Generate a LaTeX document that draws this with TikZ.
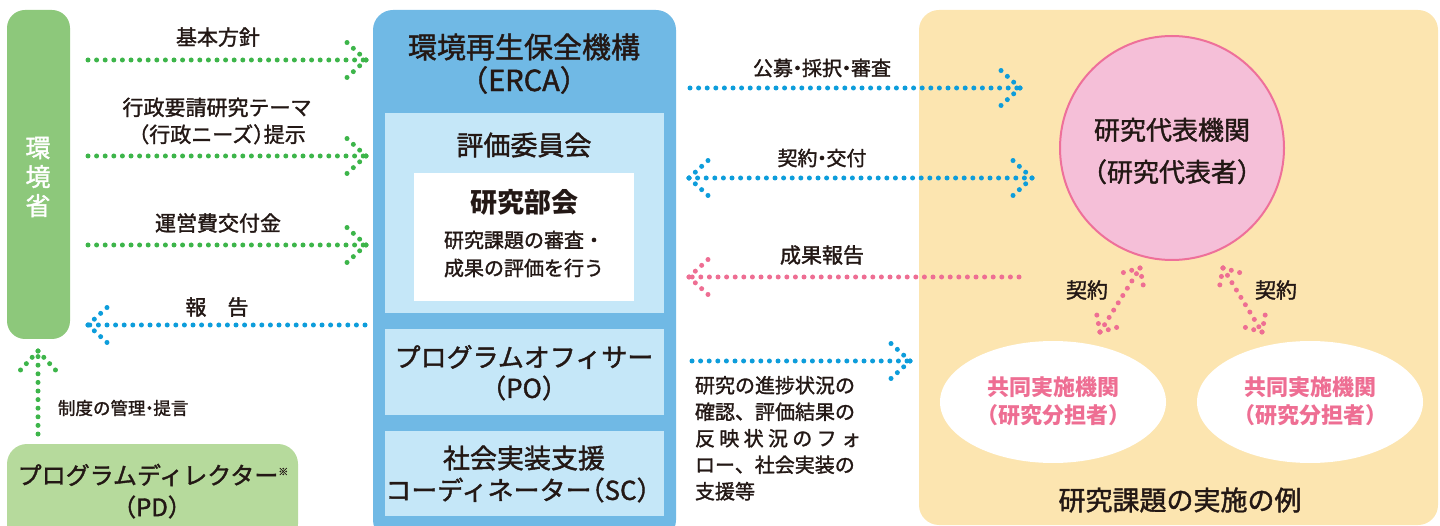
\documentclass[tikz,border=0pt]{standalone}
\usepackage{fontspec}
\usetikzlibrary{shapes.geometric}
\setmainfont{Noto Sans CJK JP}[FakeBold=1.5, BoldFeatures={FakeBold=0}]
\definecolor{gdot}{HTML}{3DB54A}
\definecolor{bdot}{HTML}{0D9DDB}
\definecolor{pdot}{HTML}{EE6E93}
\definecolor{moeg}{HTML}{8DC87B}
\definecolor{pdg}{HTML}{B6DA9C}
\definecolor{ercab}{HTML}{70B9E5}
\definecolor{lightb}{HTML}{C5E7F8}
\definecolor{yel}{HTML}{FCE5B0}
\definecolor{pinkf}{HTML}{F5BFD8}
\definecolor{pinkd}{HTML}{EE709A}
\definecolor{txt}{HTML}{231815}
\newcommand{\fs}[2]{\fontsize{#1pt}{#2pt}\selectfont}
\newcommand{\nd}{\makebox[0.45em][c]{・}}
\newcommand{\lp}{\makebox[0.5em][r]{（}}
\newcommand{\rp}{\makebox[0.5em][l]{）}}
\begin{document}
\begin{tikzpicture}[x=1pt,y=-1pt,
  every node/.style={text=txt, inner sep=0pt, outer sep=0pt},
  dotl/.style={line width=5pt, line cap=round, dash pattern=on 0pt off 8.6pt},
  chev/.pic={\draw[dotl] (0,0) -- (-25,-23); \draw[dotl] (0,0) -- (-25,23);},
  panel/.style={fill=lightb, minimum width=279pt},
  lbl/.style={font=\fs{21}{25}},
]
\useasboundingbox (0,0) rectangle (1440,526);

% ---------- boxes ----------
\node[fill=yel, rounded corners=20pt, minimum width=519pt, minimum height=515pt] (yb) at (1178.5,267.5) {};
\node[fill=moeg, rounded corners=18pt, minimum width=63pt, minimum height=329pt] (moe) at (38.5,174.5) {};
\node[fill=pdg, rounded corners=20pt, minimum width=291pt, minimum height=100pt] (pd) at (152.5,494) {};
\node[fill=ercab, rounded corners=20pt, minimum width=303pt, minimum height=530pt] (erca) at (524.5,275) {};
\node[panel, minimum height=200pt] (hyoka) at (524.5,213) {};
\node[fill=white, minimum width=220pt, minimum height=128pt] (bukai) at (524,237) {};
\node[panel, minimum height=86pt] (po) at (524.5,372) {};
\node[panel, minimum height=85pt] (sc) at (524.5,473.5) {};
\node[circle, fill=pinkf, draw=pinkd, line width=2pt, minimum size=224pt] (rep) at (1172,148) {};
\node[ellipse, fill=white, minimum width=226pt, minimum height=122pt] (co1) at (1053,402) {};
\node[ellipse, fill=white, minimum width=226pt, minimum height=122pt] (co2) at (1310,402) {};

% ---------- texts ----------
\node[text=white, font=\fs{25}{29}, align=center] (moet) at (38,177) {環\\境\\省};
\node[font=\fs{24}{28}] (pdt1) at (153,475) {プログラムディレクター\raisebox{9pt}{\fs{10}{10}※}};
\node[font=\fs{24}{28}] (pdt2) at (152,507) {（PD）};

\node[font=\fs{29}{33}] (ercat1) at (524,47) {環境再生保全機構};
\node[font=\fs{29}{33}] (ercat2) at (524,80) {（ERCA）};
\node[font=\fs{27}{31}] (hyokat) at (524,145) {評価委員会};
\node[font=\bfseries\fs{27}{31}] (bukait) at (524,202) {研究部会};
\node[font=\fs{20}{28}] (bukai1) at (524,240) {研究課題の審査・};
\node[font=\fs{20}{28}] (bukai2) at (524,268) {成果の評価を行う};
\node[font=\fs{26}{30}] (pot1) at (524,357) {プログラムオフィサー};
\node[font=\fs{26}{30}] (pot2) at (524,388) {（PO）};
\node[font=\fs{27}{31}] (sct1) at (524,458) {社会実装支援};
\node[font=\fs{26}{30}] (sct2) at (524,490) {コーディネーター\lp SC）};

\node[font=\fs{26}{42}, align=center] (rept) at (1172,151) {研究代表機関\\（研究代表者）};
\node[text=pdot, font=\bfseries\fs{22}{28}, align=center] (co1t) at (1053,401) {共同実施機関\\（研究分担者）};
\node[text=pdot, font=\bfseries\fs{22}{28}, align=center] (co2t) at (1310,401) {共同実施機関\\（研究分担者）};
\node[font=\fs{27}{31}] (ex) at (1180,500) {研究課題の実施の例};

% labels
\node[lbl] (l1) at (218,37) {基本方針};
\node[lbl, align=center, font=\fs{21}{27}] (l2) at (217,121) {行政要請研究テーマ\\（行政ニーズ\rp 提示};
\node[lbl] (l3) at (218,223) {運営費交付金};
\node[lbl] (l4) at (217,307) {報　告};
\node[font=\fs{17.5}{20}, anchor=west] (l5) at (58,408) {制度の管理\nd 提言};
\node[font=\fs{20}{24}] (l6) at (822,68) {公募\nd 採択\nd 審査};
\node[font=\fs{20}{24}] (l7) at (822,158) {契約\nd 交付};
\node[font=\fs{21}{24}] (l8) at (822,255) {成果報告};
\node[font=\fs{20}{26.5}, align=left, anchor=north west] (l9) at (695,376) {研究の進捗状況の\\確認、評価結果の\\\hbox to 166pt{反\hfill 映\hfill 状\hfill 況\hfill の\hfill フ\hfill ォ}\\ロー、社会実装の\\支援等};
\node[lbl] (k1) at (1087,290) {契約};
\node[lbl] (k2) at (1276,290) {契約};

% ---------- connectors ----------
\coordinate (g1s) at (88,60);  \coordinate (g1e) at (366,60);
\coordinate (g2s) at (88,156); \coordinate (g2e) at (366,156);
\coordinate (g3s) at (88,245); \coordinate (g3e) at (366,245);
\coordinate (rps) at (365,325); \coordinate (rpe) at (88,325);
\coordinate (ups) at (38,434); \coordinate (upe) at (38,351);
\coordinate (a1s) at (690,88); \coordinate (a1e) at (1020,88);
\coordinate (a2s) at (689,178); \coordinate (a2e) at (1032,178);
\coordinate (a3s) at (1019,277); \coordinate (a3e) at (689,277);
\coordinate (a4s) at (692,361); \coordinate (a4e) at (910,361);
\coordinate (d1a) at (1100,332); \coordinate (d1b) at (1140,268);
\coordinate (d2a) at (1223,268); \coordinate (d2b) at (1262,332);

\begin{scope}[color=gdot]
\draw[dotl] (g1s) -- (g1e); \pic at (g1e) {chev};
\draw[dotl] (g2s) -- (g2e); \pic at (g2e) {chev};
\draw[dotl] (g3s) -- (g3e); \pic at (g3e) {chev};
\draw[dotl] (ups) -- (upe); \pic[rotate=90] at (upe) {chev};
\end{scope}
\begin{scope}[color=bdot]
\draw[dotl] (rps) -- (rpe); \pic[rotate=180] at (rpe) {chev};
\draw[dotl] (a1s) -- (a1e); \pic at (a1e) {chev};
\draw[dotl] (a2s) -- (a2e); \pic at (a2e) {chev}; \pic[rotate=180] at (a2s) {chev};
\draw[dotl] (a4s) -- (a4e); \pic at (a4e) {chev};
\end{scope}
\begin{scope}[color=pdot]
\draw[dotl] (a3s) -- (a3e); \pic[rotate=180] at (a3e) {chev};
\draw[dotl] (d1a) -- (d1b); \pic[rotate=58, scale=0.75] at (d1b) {chev}; \pic[rotate=238, scale=0.75] at (d1a) {chev};
\draw[dotl] (d2a) -- (d2b); \pic[rotate=-58, scale=0.75] at (d2b) {chev}; \pic[rotate=122, scale=0.75] at (d2a) {chev};
\end{scope}
\end{tikzpicture}
\end{document}
